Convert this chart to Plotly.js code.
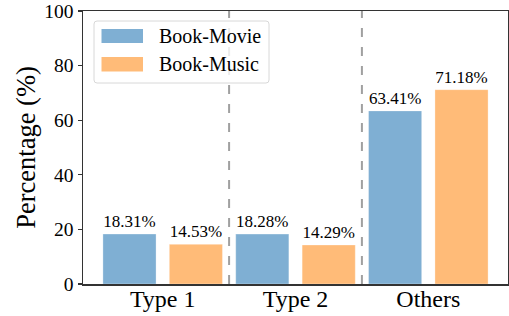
<!DOCTYPE html>
<html>
<head>
<meta charset="utf-8">
<script src="https://cdn.plot.ly/plotly-3.0.1.min.js"></script>
<style>html,body{margin:0;padding:0;background:#fff;}#chart{width:509px;height:316px;}</style>
</head>
<body>
<div id="chart"></div>
<script>
const categories = ["Type 1", "Type 2", "Others"];
const bookMovie = [18.31, 18.28, 63.41];
const bookMusic = [14.53, 14.29, 71.18];
const seriesNames = ["Book-Movie", "Book-Music"];
const yTicks = [0, 20, 40, 60, 80, 100];
const dividers = [0.5, 1.5];

const W = 509, H = 316;
const M = {l: 83, r: 1, t: 11, b: 32};
const pw = W - M.l - M.r, ph = H - M.t - M.b;
const px = x => (x - M.l) / pw;
const py = y => (H - M.b - y) / ph;

const FONT = "'Times New Roman', 'Liberation Serif', Times, serif";
const BLUE = "#7fafd3";
const ORANGE = "#ffbb78";
const xs = categories.map((c, i) => i);

function barTrace(vals, name, color, offset) {
  return {
    type: "bar", x: xs, y: vals, name: name,
    width: 0.4, offset: offset,
    marker: {color: color, line: {color: "rgba(255,255,255,0.6)", width: 0.5}},
    text: vals.map(v => v.toFixed(2) + "%"),
    textposition: "outside",
    constraintext: "none",
    cliponaxis: false,
    textfont: {family: FONT, size: 17, color: "#000"},
    hoverinfo: "none", showlegend: false
  };
}

const traces = [
  barTrace(bookMovie, seriesNames[0], BLUE, -0.45),
  barTrace(bookMusic, seriesNames[1], ORANGE, 0.05)
];

const shapes = dividers.map(d => ({
  type: "line", xref: "x", yref: "y", x0: d, x1: d, y0: 0, y1: 100,
  line: {color: "rgba(150,150,150,0.9)", width: 2, dash: "9px,10px"}, layer: "above"
}));

// legend box (rounded)
const L = {x0: 94, x1: 269, y0: 21, y1: 83, r: 3};
function rr(b) {
  const X = v => px(v), Y = v => py(v);
  const rx = b.r / pw, ry = b.r / ph;
  const x0 = X(b.x0), x1 = X(b.x1), yt = Y(b.y0), yb = Y(b.y1);
  return `M${x0+rx},${yt} L${x1-rx},${yt} Q${x1},${yt} ${x1},${yt-ry} L${x1},${yb+ry} Q${x1},${yb} ${x1-rx},${yb} L${x0+rx},${yb} Q${x0},${yb} ${x0},${yb+ry} L${x0},${yt-ry} Q${x0},${yt} ${x0+rx},${yt} Z`;
}
shapes.push({type: "path", xref: "paper", yref: "paper", path: rr(L),
  fillcolor: "rgba(255,255,255,0.8)", line: {color: "#d8d8d8", width: 1}, layer: "above"});
const swatches = [{y0: 29, y1: 43, c: BLUE}, {y0: 57, y1: 71.5, c: ORANGE}];
const annotations = [];
swatches.forEach((s, i) => {
  shapes.push({type: "rect", xref: "paper", yref: "paper",
    x0: px(101.5), x1: px(143), y0: py(s.y1), y1: py(s.y0),
    fillcolor: s.c, line: {width: 0}, layer: "above"});
  annotations.push({xref: "paper", yref: "paper", x: px(157), y: py((s.y0 + s.y1) / 2),
    xanchor: "left", yanchor: "middle", showarrow: false, text: seriesNames[i],
    font: {family: FONT, size: 20, color: "#000"}});
});

const layout = {
  width: W, height: H,
  margin: M,
  paper_bgcolor: "#fff", plot_bgcolor: "#fff",
  showlegend: false,
  font: {family: FONT, color: "#000"},
  xaxis: {
    range: [-0.6, 2.6], tickvals: xs, ticktext: categories,
    showgrid: false, zeroline: false, ticks: "",
    showline: true, mirror: true, linecolor: "#333", linewidth: 1.5,
    tickfont: {family: FONT, size: 24, color: "#000"},
    ticklabelstandoff: -7, fixedrange: true
  },
  yaxis: {
    range: [0, 100], tickvals: yTicks, ticktext: yTicks.map(String),
    showgrid: false, zeroline: false,
    ticks: "outside", ticklen: 4, tickwidth: 1.2, tickcolor: "#333",
    showline: true, mirror: true, linecolor: "#333", linewidth: 1.5,
    tickfont: {family: FONT, size: 19.5, color: "#000"},
    title: {text: "Percentage (%)", font: {family: FONT, size: 26.5, color: "#000"}, standoff: 1},
    fixedrange: true
  },
  shapes: shapes,
  annotations: annotations
};

Plotly.newPlot("chart", traces, layout, {staticPlot: true, displayModeBar: false});
</script>
</body>
</html>
